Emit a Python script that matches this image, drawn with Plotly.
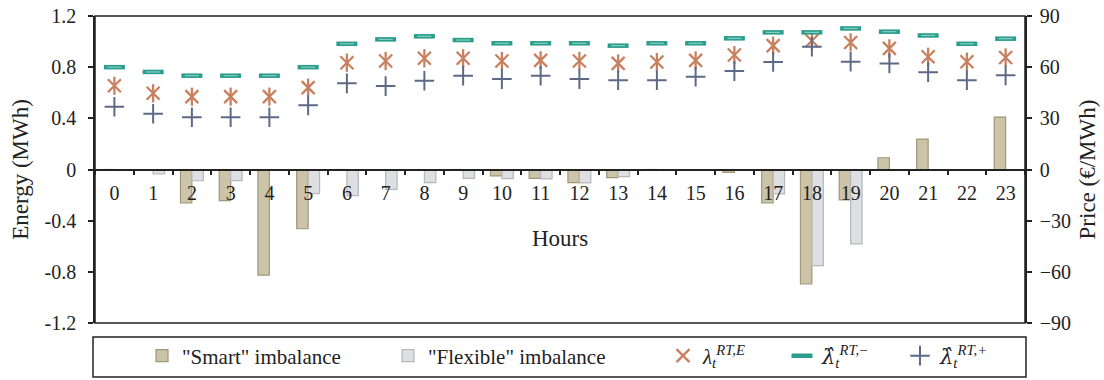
import plotly.graph_objects as go

hours = [str(h) for h in range(24)]

smart_imbalance = [-0.004, 0.0, -0.262, -0.244, -0.825, -0.463, -0.005, 0.0, 0.0, -0.005,
                   -0.05, -0.069, -0.103, -0.064, -0.005, 0.0, -0.022, -0.262, -0.895, -0.238,
                   0.092, 0.238, 0.0, 0.41]
flexible_imbalance = [0.0, -0.035, -0.088, -0.087, 0.0, -0.189, -0.205, -0.155, -0.103, -0.069,
                      -0.072, -0.073, -0.104, -0.056, 0.0, 0.0, 0.0, -0.19, -0.752, -0.582,
                      0.0, 0.0, 0.0, 0.0]
price_rt_e = [49.1, 44.7, 42.7, 42.7, 42.7, 48.0, 62.6, 63.6, 65.2, 65.2,
              63.6, 64.0, 63.6, 62.2, 63.0, 64.0, 67.1, 72.6, 75.5, 74.5,
              71.0, 66.1, 63.2, 65.7]
price_rt_minus = [60.0, 57.2, 55.0, 55.0, 55.0, 60.0, 73.7, 76.3, 78.1, 75.9,
                  74.0, 74.0, 74.0, 72.6, 74.0, 74.0, 76.9, 80.4, 80.4, 82.7,
                  80.8, 78.6, 73.7, 76.7]
price_rt_plus = [36.8, 32.7, 30.6, 30.6, 30.6, 37.6, 50.5, 48.9, 52.0, 55.0,
                 53.0, 55.0, 53.0, 52.3, 52.3, 54.4, 57.7, 63.0, 72.0, 63.2,
                 62.2, 57.0, 52.4, 55.2]

energy_ticks = [-1.2, -0.8, -0.4, 0, 0.4, 0.8, 1.2]
energy_tick_labels = ["-1.2", "-0.8", "-0.4", "0", "0.4", "0.8", "1.2"]
price_ticks = [-90, -60, -30, 0, 30, 60, 90]

FONT = "Liberation Serif, Times New Roman, serif"
INK = "#222222"
SMART_FILL, SMART_LINE = "#cbc4a8", "#a09878"
FLEX_FILL, FLEX_LINE = "#dedfe2", "#b6b7bb"
TEAL, TEAL_LIGHT, ORANGE, SLATE = "#2a9d8c", "#86cfc3", "#c8805f", "#5d6a86"

def f(size):
    return dict(family=FONT, size=size, color=INK)

HAT_LAMBDA = "<span style=\"font-family:'DejaVu Serif'\"><i>λ̂</i></span>"

fig = go.Figure()
fig.add_trace(go.Bar(x=hours, y=smart_imbalance, name='"Smart" imbalance',
                     marker=dict(color=SMART_FILL, line=dict(color=SMART_LINE, width=1.2)),
                     legend="legend"))
fig.add_trace(go.Bar(x=hours, y=flexible_imbalance, name='"Flexible" imbalance',
                     marker=dict(color=FLEX_FILL, line=dict(color=FLEX_LINE, width=1.2)),
                     legend="legend2"))
fig.add_trace(go.Scatter(x=hours, y=price_rt_e, yaxis="y2", mode="markers",
                         name="<i>λ</i><sub><i>t</i></sub><sup><i>RT,E</i></sup>",
                         marker=dict(symbol="x-thin", size=13, line=dict(color=ORANGE, width=2.3)),
                         legend="legend3"))
fig.add_trace(go.Scatter(x=hours, y=price_rt_e, yaxis="y2", mode="markers", showlegend=False,
                         marker=dict(symbol="line-ns", size=13, line=dict(color=ORANGE, width=2.3)),
                         hoverinfo="skip"))
fig.add_trace(go.Scatter(x=hours, y=price_rt_minus, yaxis="y2", mode="markers",
                         name=HAT_LAMBDA + "<sub><i>t</i></sub><sup><i>RT,</i>−</sup>",
                         marker=dict(symbol="line-ew", size=15, line=dict(color=TEAL, width=4.5)),
                         legend="legend4"))
fig.add_trace(go.Scatter(x=hours, y=price_rt_minus, yaxis="y2", mode="markers", showlegend=False,
                         marker=dict(symbol="line-ew", size=10, line=dict(color=TEAL_LIGHT, width=1.2)),
                         hoverinfo="skip"))
fig.add_trace(go.Scatter(x=hours, y=price_rt_plus, yaxis="y2", mode="markers",
                         name=HAT_LAMBDA + "<sub><i>t</i></sub><sup><i>RT,+</i></sup>",
                         marker=dict(symbol="cross-thin", size=14, line=dict(color=SLATE, width=2)),
                         legend="legend5"))

W, H = 1104, 380
L, R, T, B = 95, 1025, 16, 323
pw, ph = R - L, B - T

def px_x(x):
    return (x - L) / pw

def px_y(y):
    return (B - y) / ph

leg_left = [142, 388, 663, 782, 900]
legends = {}
for i, lx in enumerate(leg_left):
    key = "legend" if i == 0 else f"legend{i+1}"
    legends[key] = dict(orientation="h", yanchor="middle", xanchor="left", y=px_y(356),
                        x=px_x(lx), font=f(21), bgcolor="rgba(0,0,0,0)",
                        borderwidth=0, itemclick=False, itemdoubleclick=False)

fig.update_layout(
    width=W, height=H,
    margin=dict(l=L, r=W - R, t=T, b=H - B, autoexpand=False),
    paper_bgcolor="white", plot_bgcolor="white",
    font=f(20),
    barmode="group", bargap=0.41, bargroupgap=0.0,
    showlegend=True,
    xaxis=dict(type="category", range=[-0.5, 23.5], anchor="free", position=0.5,
               showline=True, linecolor=INK, linewidth=1.5, ticks="outside", ticklen=5,
               tickwidth=1.5, tickcolor=INK, tickson="boundaries", showgrid=False,
               zeroline=False, tickfont=f(20), ticklabelstandoff=6,
               title=dict(text="Hours", font=f(23), standoff=26),
               automargin=False),
    yaxis=dict(range=[-1.2, 1.2], tickvals=energy_ticks, ticktext=energy_tick_labels,
               showline=True, linecolor=INK, linewidth=1.5, ticks="outside", ticklen=5,
               tickwidth=1.5, tickcolor=INK, showgrid=False, zeroline=True,
               zerolinecolor=INK, zerolinewidth=1.5, tickfont=f(20), ticklabelstandoff=8,
               ticklabeloverflow="allow",
               title=dict(text="Energy (MWh)", font=f(23), standoff=10),
               automargin=False),
    yaxis2=dict(range=[-90, 90], tickvals=price_ticks, overlaying="y", side="right",
                showline=True, linecolor=INK, linewidth=1.5, ticks="outside", ticklen=5,
                tickwidth=1.5, tickcolor=INK, showgrid=False, zeroline=False,
                tickfont=f(20), ticklabelstandoff=4, ticklabeloverflow="allow",
                title=dict(text="Price (€/MWh)", font=f(23), standoff=9),
                automargin=False),
    shapes=[
        dict(type="rect", xref="paper", yref="paper", x0=0, x1=1, y0=0, y1=1,
             line=dict(color=INK, width=1.5), fillcolor="rgba(0,0,0,0)", layer="above"),
        dict(type="rect", xref="paper", yref="paper", x0=px_x(93), x1=px_x(1026),
             y0=px_y(377), y1=px_y(337), line=dict(color=INK, width=1.5),
             fillcolor="rgba(0,0,0,0)"),
    ],
    **legends,
)

fig.write_html("out.html", config={"displayModeBar": False},
               post_script="document.body.style.margin='0';")
